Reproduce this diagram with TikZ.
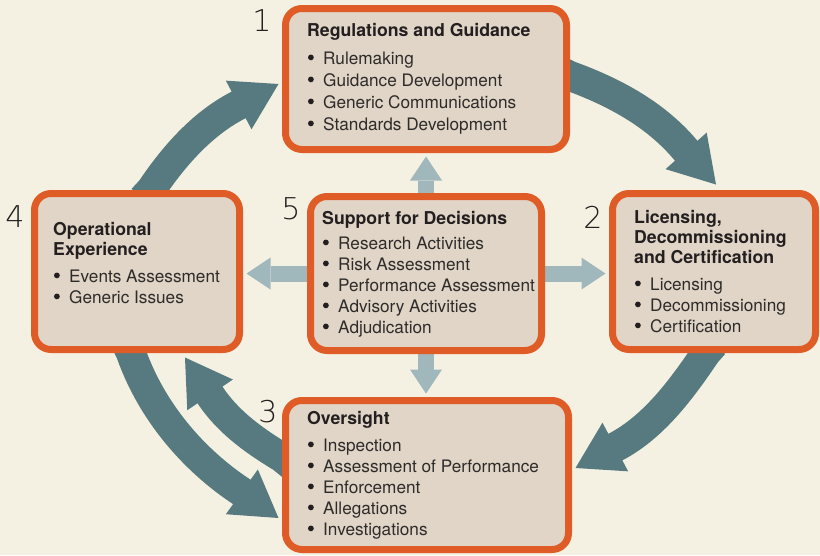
\documentclass[tikz,border=0pt]{standalone}
\usepackage{fontspec}
\setmainfont{TeX Gyre Heros}
\newfontfamily\thinfont{DejaVu Sans ExtraLight}
\usetikzlibrary{arrows.meta,calc}
\definecolor{cream}{HTML}{F5F1E2}
\definecolor{boxfill}{HTML}{E0D5C6}
\definecolor{boxline}{HTML}{E05C27}
\definecolor{darkarrow}{HTML}{567A7F}
\definecolor{lightarrow}{HTML}{A0B7BC}
\definecolor{ink}{HTML}{231F20}
\definecolor{itemink}{HTML}{2E2B2B}
\pgfdeclarelayer{bg}
\pgfsetlayers{bg,main}
\newcommand\bulletdot{\tikz[baseline=0pt]\fill[ink] (2.9pt,6.6pt) circle[radius=2.9pt];}
\newcommand\itm[1]{\makebox[16pt][l]{\hspace{0.8pt}\bulletdot}#1}
\newcommand\ttl[1]{{\fontsize{17.7}{20}\selectfont\bfseries\color{ink}#1}}
\begin{document}
\begin{tikzpicture}[x=1pt,y=-1pt,
  box/.style={draw=boxline, line width=7pt, fill=boxfill, rounded corners=16.5pt, inner sep=0pt},
  txt/.style={anchor=base west, inner sep=0pt, text=itemink},
  num/.style={anchor=center, inner sep=0pt, text=ink, font=\thinfont\fontsize{30}{30}\selectfont},
  lightarr/.style={draw=lightarrow, line width=16pt, shorten >=3.5pt, -{Triangle[length=24pt,width=32pt,line width=0pt]}},
  bigarr/.style={draw=darkarrow, line width=30pt, -{Triangle[length=45pt,width=55pt,line width=0pt]}}]
\useasboundingbox (0,0) rectangle (820,555);

% boxes
\node[box, minimum width=281pt, minimum height=141pt] (reg) at (426,79) {};
\node[box, minimum width=205pt, minimum height=156pt] (op) at (137,271.5) {};
\node[box, minimum width=231pt, minimum height=154pt] (sup) at (426,273.5) {};
\node[box, minimum width=203pt, minimum height=156pt] (lic) at (714,271.5) {};
\node[box, minimum width=283pt, minimum height=149pt] (ovs) at (427,475) {};

% texts
\node[txt, font=\fontsize{17.2}{22}\selectfont] (regtxt) at (307,36) {\begin{tabular}[t]{@{}l@{}}
\ttl{Regulations and Guidance}\\[6pt]
\itm{Rulemaking}\\
\itm{Guidance Development}\\
\itm{Generic Communications}\\
\itm{Standards Development}
\end{tabular}};

\node[txt, font=\fontsize{17.2}{21}\selectfont] (suptxt) at (322,224) {\begin{tabular}[t]{@{}l@{}}
\ttl{Support for Decisions}\\[4pt]
\itm{Research Activities}\\
\itm{Risk Assessment}\\
\itm{Performance Assessment}\\
\itm{Advisory Activities}\\
\itm{Adjudication}
\end{tabular}};

\node[txt, font=\fontsize{17.2}{21}\selectfont] (optxt) at (53,235) {\begin{tabular}[t]{@{}l@{}}
\ttl{Operational}\\[-1pt]
\ttl{Experience}\\[6pt]
\itm{Events Assessment}\\
\itm{Generic Issues}
\end{tabular}};

\node[txt, font=\fontsize{17.2}{21}\selectfont] (lictxt) at (634,223) {\begin{tabular}[t]{@{}l@{}}
\ttl{Licensing,}\\[-1pt]
\ttl{Decommissioning}\\[-1pt]
\ttl{and Certification}\\[6pt]
\itm{Licensing}\\
\itm{Decommissioning}\\
\itm{Certification}
\end{tabular}};

\node[txt, font=\fontsize{17.2}{21}\selectfont] (ovstxt) at (307,424) {\begin{tabular}[t]{@{}l@{}}
\ttl{Oversight}\\[6pt]
\itm{Inspection}\\
\itm{Assessment of Performance}\\
\itm{Enforcement}\\
\itm{Allegations}\\
\itm{Investigations}
\end{tabular}};

% numbers
\node[num] (n1) at (262,21) {1};
\node[num] (n2) at (593,217) {2};
\node[num] (n3) at (268,412) {3};
\node[num] (n4) at (15,217) {4};
\node[num] (n5) at (291,209) {5};

\begin{pgfonlayer}{bg}
\fill[cream] (0,0) rectangle (820,555);
% light arrows from the centre box
\draw[lightarr] (sup.north) -- (reg.south);
\draw[lightarr] (sup.west) -- (sup.west -| op.east);
\draw[lightarr] (sup.east) -- (sup.east -| lic.west);
\draw[lightarr] (sup.south) -- (sup.south |- ovs.north);
% cycle arrows
\draw[bigarr] ($(op.north)+(5.6,9)$) -- (151,190) .. controls (174.5,155) and (204,121.6) .. (241.5,103.5) -- ($(reg.west)+(-3.5,5)$);
\draw[bigarr] ($(reg.east)+(-10.5,-8)$) -- (570,76) .. controls (615,92.3) and (658,115.6) .. (688,153) -- ($(lic.north)+(2,-5.5)$);
\draw[bigarr] ($(lic.south)+(0,-9)$) -- (706,353) .. controls (681,390) and (652,429.6) .. (611.5,449) -- ($(ovs.east)+(3.5,-7)$);
\draw[bigarr] ($(op.south)+(-11,-10.5)$) -- (131,353) .. controls (151,410) and (192.3,459.8) .. (243.5,493) -- ($(ovs.west)+(-3.5,43)$);
\draw[bigarr] ($(ovs.west)+(9.4,-9.8)$) -- (282,457.5) .. controls (252.9,440) and (225.2,420) .. (207.5,391) -- ($(op.south)+(48,4.5)$);
\end{pgfonlayer}
\end{tikzpicture}
\end{document}
